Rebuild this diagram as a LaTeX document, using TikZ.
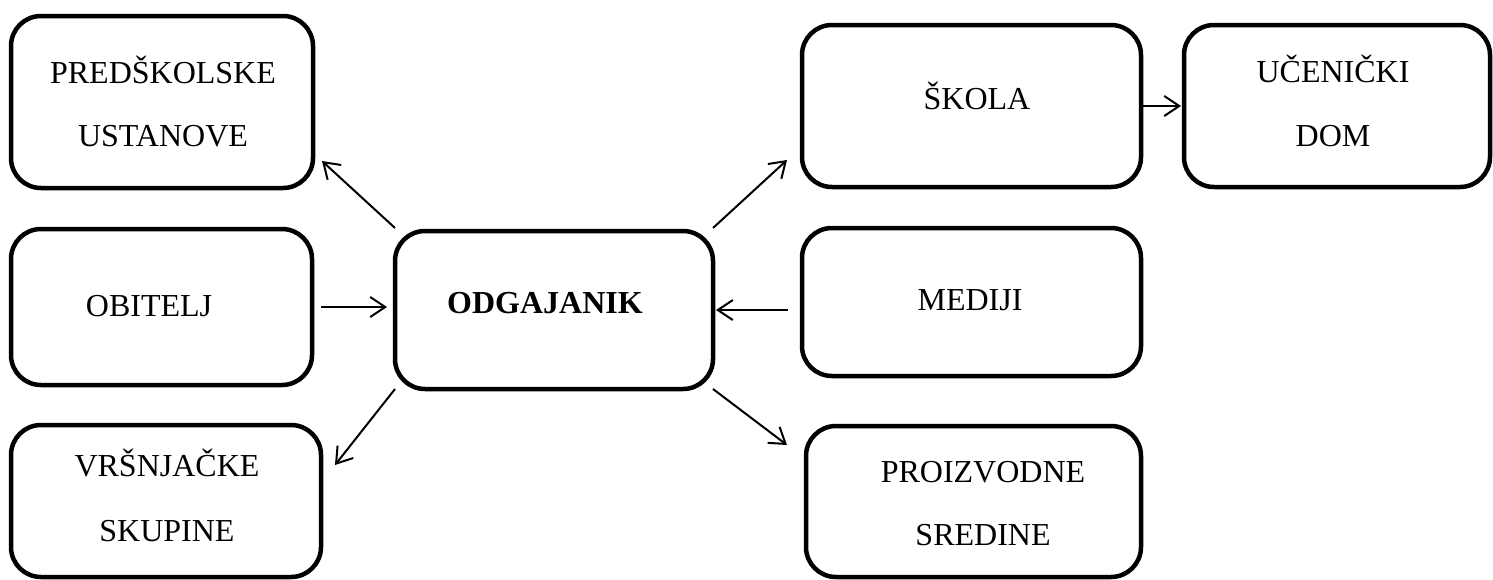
\documentclass[tikz,border=0pt]{standalone}
\usepackage{fontspec}
\setmainfont{Liberation Serif}
\usetikzlibrary{arrows.meta,fit}
\begin{document}
\begin{tikzpicture}[x=1pt,y=-1pt,
  box/.style={draw, line width=4.5pt, rounded corners=30pt, inner sep=0pt, outer sep=0pt},
  txt/.style={anchor=base, inner sep=0pt, font=\fontsize{32}{38}\selectfont},
  arr/.style={line width=2pt, -{Straight Barb[length=15pt,width=20pt,line width=2pt]}}]
\useasboundingbox (0,0) rectangle (1493,579);
% boxes
\node[box, fit={(11,16) (313,188)}] (pre) {};
\node[box, fit={(11,229) (312,385)}] (obi) {};
\node[box, fit={(11,425) (321,577)}] (vrs) {};
\node[box, fit={(395,231) (713,389)}] (odg) {};
\node[box, fit={(802,25) (1141,187)}] (sko) {};
\node[box, fit={(1184,25) (1490,187)}] (uce) {};
\node[box, fit={(802,228) (1141,376)}] (med) {};
\node[box, fit={(806,426) (1141,577)}] (pro) {};
% texts
\node[txt] (pre1) at (163,83) {PREDŠKOLSKE};
\node[txt] (pre2) at (163,146) {USTANOVE};
\node[txt] (obi1) at (149,316) {OBITELJ};
\node[txt, font=\fontsize{32}{38}\selectfont\bfseries] (odg1) at (545,313) {ODGAJANIK};
\node[txt] (vrs1) at (167,476) {VRŠNJAČKE};
\node[txt] (vrs2) at (167,541) {SKUPINE};
\node[txt] (sko1) at (977,109) {ŠKOLA};
\node[txt] (uce1) at (1333,82) {UČENIČKI};
\node[txt] (uce2) at (1333,146) {DOM};
\node[txt] (med1) at (970,310) {MEDIJI};
\node[txt] (pro1) at (983,482) {PROIZVODNE};
\node[txt] (pro2) at (983,545) {SREDINE};
% arrows
\draw[arr] ([shift={(0,-3)}]odg.north west) -- ([shift={(9,-27)}]pre.south east);
\draw[arr] ([xshift=9pt]obi.east) -- ([xshift=-8pt]obi.east -| odg.west);
\draw[arr] (odg.south west) -- ([shift={(14,40)}]vrs.north east);
\draw[arr] ([shift={(0,-3)}]odg.north east) -- ([shift={(-15,-27)}]sko.south west);
\draw[arr] ([xshift=-14pt]med.west |- odg.east) -- ([xshift=3pt]odg.east);
\draw[arr] (odg.south east) -- ([shift={(-19,19)}]pro.north west);
\draw[arr] ([xshift=1pt]sko.east) -- ([xshift=-3pt]sko.east -| uce.west);
\end{tikzpicture}
\end{document}
